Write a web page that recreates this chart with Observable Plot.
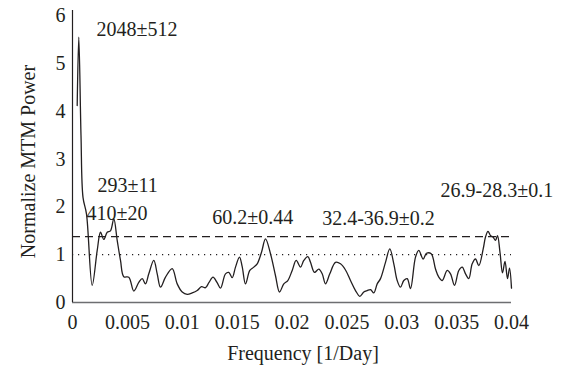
<!DOCTYPE html>
<html>
<head>
<meta charset="utf-8">
<script src="https://cdn.jsdelivr.net/npm/d3@7"></script>
<script src="https://cdn.jsdelivr.net/npm/@observablehq/plot@0.6"></script>
<style>
  html, body { margin: 0; padding: 0; background: #fff; }
</style>
</head>
<body>
<div id="chart"></div>
<script>
const freq = [0.000428,0.000574,0.000774,0.000957,0.001276,0.001795,0.002251,0.002551,0.002852,0.003162,
  0.003462,0.003763,0.004073,0.004374,0.004674,0.005130,0.005585,0.006041,0.006351,0.006651,
  0.006952,0.007408,0.007718,0.008018,0.008474,0.009084,0.009540,0.009995,0.010451,0.010907,
  0.011362,0.011754,0.012118,0.012437,0.012802,0.013166,0.013485,0.013941,0.014241,0.014551,
  0.014852,0.015216,0.015462,0.015763,0.016155,0.016519,0.016829,0.017221,0.017585,0.018041,
  0.018497,0.018861,0.019253,0.019617,0.020018,0.020383,0.020774,0.021075,0.021440,0.021686,
  0.022050,0.022442,0.022752,0.023052,0.023444,0.023964,0.024419,0.024875,0.025330,0.025786,
  0.026178,0.026542,0.026852,0.027153,0.027453,0.027763,0.028064,0.028519,0.028911,0.029276,
  0.029585,0.029886,0.030187,0.030497,0.030797,0.031253,0.031554,0.031954,0.032255,0.032683,
  0.033075,0.033376,0.033686,0.034141,0.034442,0.034806,0.035199,0.035508,0.035809,0.036109,
  0.036419,0.036720,0.037021,0.037421,0.037631,0.037859,0.038087,0.038314,0.038542,0.038724,
  0.038952,0.039180,0.039408,0.039636,0.039818,0.040000];
const power = [4.12,5.55,3.5,2.2,1.85,0.36,1.09,1.47,1.32,1.47,
  1.5,1.75,1.3,0.88,0.54,0.53,0.24,0.42,0.5,0.39,
  0.6,0.88,0.6,0.32,0.53,0.71,0.39,0.22,0.17,0.2,
  0.25,0.33,0.31,0.42,0.53,0.42,0.3,0.6,0.63,0.52,
  0.74,0.95,0.75,0.39,0.67,0.74,0.81,1.05,1.33,1.02,
  0.56,0.22,0.39,0.46,0.67,0.88,0.74,0.88,0.96,0.84,
  0.63,0.7,0.6,0.39,0.6,0.84,0.81,0.68,0.46,0.25,
  0.13,0.22,0.25,0.27,0.2,0.39,0.5,0.84,1.12,0.81,
  0.46,0.32,0.46,0.5,0.29,0.95,1.09,0.91,1.03,1.02,
  0.7,0.53,0.46,0.67,0.6,0.36,0.67,0.74,0.6,0.5,
  0.81,0.91,0.77,1.12,1.37,1.49,1.4,1.37,1.3,1.4,
  1.05,0.62,0.86,0.5,0.72,0.3];

const xTicks = [0, 0.005, 0.01, 0.015, 0.02, 0.025, 0.03, 0.035, 0.04];
const xTickLabels = ["0", "0.005", "0.01", "0.015", "0.02", "0.025", "0.03", "0.035", "0.04"];
const yTicks = [0, 1, 2, 3, 4, 5, 6];
const yTickLabels = ["0", "1", "2", "3", "4", "5", "6"];

const dashedLevel = [1.38];
const dottedLevel = [1.0];

const annText  = ["2048±512", "293±11", "410±20", "60.2±0.44", "32.4-36.9±0.2", "26.9-28.3±0.1"];
const annFreq  = [0.002187, 0.002278, 0.001276, 0.012729, 0.022752, 0.033531];
const annPower = [5.71, 2.45, 1.86, 1.78, 1.76, 2.34];

const xTitle = "Frequency [1/Day]";
const yTitle = "Normalize MTM Power";

const series = freq.map((f, i) => ({f, p: power[i]}));
const anns = annText.map((t, i) => ({t, f: annFreq[i], p: annPower[i]}));

const ink = "#231f20";
const axisGray = "#6d6e71";

const chart = Plot.plot({
  width: 565,
  height: 377,
  marginLeft: 72,
  marginRight: 54,
  marginTop: 10,
  marginBottom: 75,
  style: {fontFamily: "'Liberation Serif', 'DejaVu Serif', serif", fontSize: "20px", color: ink, background: "#fff"},
  x: {domain: [0, 0.04]},
  y: {domain: [0, 6.11]},
  marks: [
    Plot.ruleY(dottedLevel, {stroke: ink, strokeWidth: 1.2, strokeDasharray: "1.2,4.8"}),
    Plot.ruleY(dashedLevel, {stroke: ink, strokeWidth: 1.2, strokeDasharray: "8,5"}),
    Plot.ruleY([0], {stroke: axisGray, strokeWidth: 1.5}),
    Plot.ruleX([0], {stroke: ink, strokeWidth: 1.2}),
    Plot.axisX({ticks: xTicks, tickFormat: (d) => xTickLabels[xTicks.indexOf(d)], tickSize: 0, tickPadding: 12, label: null, fontSize: 20, fill: ink}),
    Plot.axisY({ticks: yTicks, tickFormat: (d) => yTickLabels[yTicks.indexOf(d)], tickSize: 0, tickPadding: 7, label: null, fontSize: 20, fill: ink}),
    Plot.line(series, {x: "f", y: "p", curve: "catmull-rom", stroke: ink, strokeWidth: 1.3}),
    Plot.text(anns, {x: "f", y: "p", text: "t", textAnchor: "start", fontSize: 20, fill: ink}),
    Plot.text([xTitle], {frameAnchor: "bottom", dx: 11, dy: 57, textAnchor: "middle", fontSize: 20, fill: ink}),
    Plot.text([yTitle], {frameAnchor: "left", rotate: -90, dx: -44, dy: 5, textAnchor: "middle", fontSize: 20, fill: ink})
  ]
});
document.getElementById("chart").appendChild(chart);
</script>
</body>
</html>
